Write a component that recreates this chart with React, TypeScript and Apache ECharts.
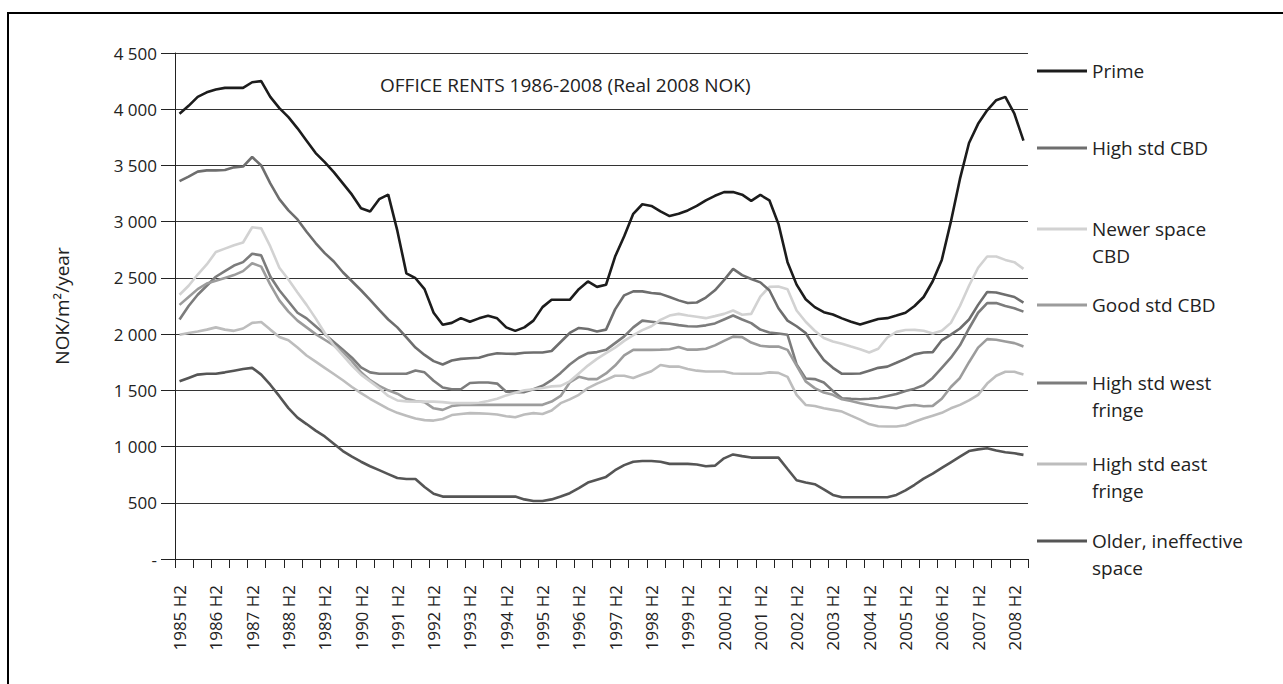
import React, { useEffect, useRef } from "react";
import * as echarts from "echarts";

const firstYear = 1985;
const quarterCount = 94;
const categories: string[] = [];
for (let i = 0; i < quarterCount; i++) {
  const k = Math.floor(i / 4);
  const r = i % 4;
  if (r === 0) categories.push(`${firstYear + k} H2`);
  else if (r === 1) categories.push(`${firstYear + k} Q4`);
  else if (r === 2) categories.push(`${firstYear + k + 1} Q1`);
  else categories.push(`${firstYear + k + 1} Q2`);
}

const seriesNames = [
  "Prime",
  "High std CBD",
  "Newer space CBD",
  "Good std CBD",
  "High std west fringe",
  "High std east fringe",
  "Older, ineffective space",
];
const legendLabels = [
  "Prime",
  "High std CBD",
  "Newer space\nCBD",
  "Good std CBD",
  "High std west\nfringe",
  "High std east\nfringe",
  "Older, ineffective\nspace",
];
const seriesColors = ["#1c1c1c", "#6e6e6e", "#d2d2d2", "#9c9c9c", "#7c7c7c", "#bdbdbd", "#555555"];

const prime = [
  3960, 4030, 4110, 4150, 4175, 4190, 4190, 4190, 4240, 4250,
  4110, 4010, 3930, 3830, 3720, 3610, 3530, 3440, 3340, 3240,
  3120, 3090, 3200, 3240, 2920, 2540, 2497, 2400, 2190, 2083,
  2100, 2142, 2110, 2140, 2163, 2140, 2060, 2029, 2060, 2120,
  2240, 2305, 2305, 2305, 2400, 2468, 2420, 2439, 2690, 2870,
  3070, 3155, 3140, 3091, 3050, 3070, 3100, 3140, 3190, 3230,
  3263, 3263, 3240, 3185, 3238, 3190, 2980, 2640, 2440, 2310,
  2240, 2195, 2175, 2140, 2110, 2085, 2110, 2135, 2142, 2165,
  2190, 2250, 2330, 2470, 2660, 3000, 3380, 3700, 3870, 3990,
  4080, 4110, 3960, 3720,
];
const highStdCBD = [
  3360, 3400, 3445, 3456, 3456, 3460, 3483, 3490, 3575, 3500,
  3340, 3200, 3100, 3020, 2910, 2810, 2720, 2646, 2550, 2470,
  2390, 2305, 2215, 2130, 2060, 1970, 1880, 1815, 1760, 1730,
  1765, 1780, 1785, 1790, 1815, 1830, 1826, 1824, 1834, 1836,
  1836, 1850, 1930, 2010, 2055, 2045, 2023, 2040, 2220, 2345,
  2380, 2380, 2365, 2358, 2330, 2300, 2276, 2281, 2325, 2390,
  2480, 2580, 2525, 2490, 2460, 2390, 2230, 2120, 2070, 2010,
  1880, 1770, 1700, 1647, 1647, 1650, 1675, 1700, 1711, 1745,
  1780, 1820, 1836, 1840, 1945, 1995, 2050, 2130, 2260, 2375,
  2370, 2350, 2330, 2280,
];
const newerSpaceCBD = [
  2350, 2430, 2530, 2620, 2730, 2760, 2790, 2815, 2950, 2940,
  2780, 2590, 2485, 2370, 2260, 2140, 2010, 1900, 1810, 1720,
  1640, 1580, 1520, 1450, 1410, 1402, 1400, 1400, 1400, 1395,
  1386, 1386, 1386, 1390, 1405, 1425, 1455, 1478, 1500, 1510,
  1520, 1535, 1540, 1580, 1650, 1720, 1780, 1830, 1880, 1940,
  1990, 2035, 2070, 2127, 2165, 2180, 2165, 2155, 2142, 2160,
  2180, 2210, 2172, 2180, 2334, 2420, 2423, 2400, 2210, 2110,
  2030, 1965, 1935, 1915, 1889, 1865, 1836, 1870, 1970, 2020,
  2036, 2038, 2030, 2005, 2030, 2100, 2250, 2430, 2590, 2690,
  2690, 2660, 2640, 2580,
];
const goodStdCBD = [
  2260, 2330, 2400, 2450, 2475, 2500, 2525, 2560, 2630, 2600,
  2440, 2300, 2200, 2120, 2060, 2000, 1950, 1900, 1840, 1760,
  1660, 1590, 1540, 1500, 1470, 1425, 1405, 1395, 1340, 1326,
  1360, 1371, 1371, 1371, 1371, 1371, 1371, 1371, 1371, 1371,
  1371, 1400, 1450, 1570, 1620, 1600, 1600, 1650, 1720, 1810,
  1860, 1860, 1860, 1862, 1866, 1885, 1862, 1862, 1870, 1900,
  1940, 1978, 1973, 1925, 1896, 1889, 1889, 1860, 1720, 1580,
  1520, 1480, 1460, 1420, 1405, 1385, 1370, 1356, 1350, 1341,
  1360, 1370, 1358, 1362, 1425, 1530, 1610, 1750, 1880, 1955,
  1950, 1935, 1920, 1890,
];
const westFringe = [
  2130, 2250, 2350, 2430, 2510, 2560, 2610, 2640, 2715, 2700,
  2512, 2390, 2290, 2190, 2140, 2070, 2000, 1930, 1860, 1790,
  1705, 1660, 1647, 1647, 1647, 1647, 1676, 1660, 1585, 1525,
  1510, 1510, 1565, 1569, 1569, 1560, 1488, 1484, 1484, 1510,
  1540, 1590, 1655, 1730, 1790, 1831, 1840, 1860, 1920, 1980,
  2060, 2120, 2110, 2100, 2092, 2080, 2070, 2068, 2078, 2095,
  2130, 2165, 2130, 2098, 2040, 2015, 2005, 1994, 1730, 1605,
  1600, 1570, 1495, 1430, 1425, 1421, 1425, 1432, 1450, 1468,
  1495, 1515, 1545, 1610, 1700, 1790, 1900, 2050, 2190, 2276,
  2276, 2250, 2230, 2200,
];
const eastFringe = [
  1995, 2010, 2023, 2040, 2060, 2040, 2029, 2050, 2100, 2107,
  2040, 1975, 1945, 1880, 1810, 1755, 1700, 1645, 1590, 1530,
  1475, 1425, 1380, 1335, 1300, 1275, 1250, 1235, 1231, 1245,
  1280, 1290, 1297, 1295, 1292, 1285, 1270, 1261, 1285, 1297,
  1290, 1320, 1386, 1420, 1460, 1520, 1560, 1593, 1630, 1630,
  1610, 1640, 1670, 1725, 1711, 1711, 1690, 1675, 1667, 1667,
  1667, 1650, 1647, 1647, 1647, 1660, 1655, 1620, 1460, 1370,
  1360, 1340, 1326, 1311, 1275, 1240, 1200, 1180, 1178, 1178,
  1190, 1220, 1250, 1275, 1300, 1340, 1371, 1410, 1460, 1560,
  1630, 1665, 1665, 1640,
];
const olderSpace = [
  1580, 1610, 1640, 1647, 1647, 1660, 1675, 1690, 1700, 1640,
  1550, 1448, 1342, 1257, 1200, 1142, 1090, 1025, 960, 910,
  865, 825, 790, 755, 720, 712, 712, 640, 580, 555,
  555, 555, 555, 555, 555, 555, 555, 555, 530, 516,
  516, 530, 555, 585, 630, 680, 705, 730, 790, 835,
  865, 872, 872, 865, 846, 846, 846, 840, 825, 830,
  895, 930, 915, 902, 902, 902, 902, 800, 700, 680,
  665, 620, 570, 549, 549, 549, 549, 549, 549, 570,
  610, 660, 715, 760, 810, 860, 910, 960, 975, 985,
  965, 950, 940, 926,
];
const seriesValues = [prime, highStdCBD, newerSpaceCBD, goodStdCBD, westFringe, eastFringe, olderSpace];

const yMin = 0;
const yMax = 4500;
const yStep = 500;

const FONT = "'Open Sans', sans-serif";
const legendIconCenters = [71, 148, 229, 305, 383, 464, 541];
const LH = 27;
const PADB = 8;

function fmtY(v: number): string {
  if (v === 0) return "-";
  return String(v).replace(/\B(?=(\d{3})+(?!\d))/g, " ");
}

export default function App() {
  const ref = useRef<HTMLDivElement>(null);
  useEffect(() => {
    if (!ref.current) return;
    const chart = echarts.init(ref.current, undefined, { renderer: "svg" });
    const legends = seriesNames.map((name, i) => {
      const twoLine = legendLabels[i].includes("\n");
      const h = (twoLine ? 3 * LH : LH) + PADB;
      return {
        show: true,
        orient: "vertical",
        left: 1037,
        top: legendIconCenters[i] - h / 2,
        padding: 0,
        icon: "rect",
        itemWidth: 50,
        itemHeight: 3,
        selectedMode: false,
        data: [name],
        formatter: () => (twoLine ? "\n" + legendLabels[i] : legendLabels[i]),
        textStyle: {
          fontSize: 19,
          color: "#222",
          fontFamily: FONT,
          lineHeight: LH,
          padding: [0, 0, PADB, 0],
        },
      };
    });
    chart.setOption({
      animation: false,
      backgroundColor: "#fff",
      textStyle: { fontFamily: FONT },
      title: {
        text: "OFFICE RENTS 1986-2008 (Real 2008 NOK)",
        left: 380,
        top: 75,
        padding: 0,
        textStyle: { fontSize: 19, fontWeight: "normal", color: "#222", fontFamily: FONT },
      },
      legend: legends,
      grid: { left: 175, top: 53, width: 853, height: 506, containLabel: false },
      xAxis: {
        type: "category",
        data: categories,
        boundaryGap: true,
        axisLine: { show: true, lineStyle: { color: "#222", width: 1 } },
        axisTick: { show: true, interval: 1, length: 9, lineStyle: { color: "#222", width: 1 } },
        axisLabel: { interval: 3, rotate: 90, margin: 26, fontSize: 17, color: "#222", fontFamily: FONT },
        splitLine: { show: false },
      },
      yAxis: {
        type: "value",
        min: yMin,
        max: yMax,
        interval: yStep,
        name: "NOK/m²/year",
        nameLocation: "middle",
        nameRotate: 90,
        nameGap: 104,
        nameTextStyle: { fontSize: 19, color: "#222", fontFamily: FONT },
        axisLine: { show: true, lineStyle: { color: "#222", width: 1 } },
        axisTick: { show: true, length: 14, lineStyle: { color: "#222", width: 1 } },
        axisLabel: { margin: 18, fontSize: 17, color: "#222", fontFamily: FONT, formatter: fmtY },
        splitLine: { show: true, lineStyle: { color: "#333", width: 1 } },
      },
      series: seriesNames.map((name, i) => ({
        name,
        type: "line",
        data: seriesValues[i],
        symbol: "none",
        showSymbol: false,
        lineStyle: { width: 2.6, color: seriesColors[i] },
        itemStyle: { color: seriesColors[i] },
        color: seriesColors[i],
        z: 10 - i,
      })),
      graphic: [
        {
          type: "rect",
          silent: true,
          shape: { x: 8, y: 13, width: 1400, height: 800 },
          style: { fill: "none", stroke: "#000", lineWidth: 2 },
        },
      ],
    });
    return () => chart.dispose();
  }, []);
  return <div ref={ref} style={{ position: "absolute", left: 0, top: 0, width: 1283, height: 684 }} />;
}
